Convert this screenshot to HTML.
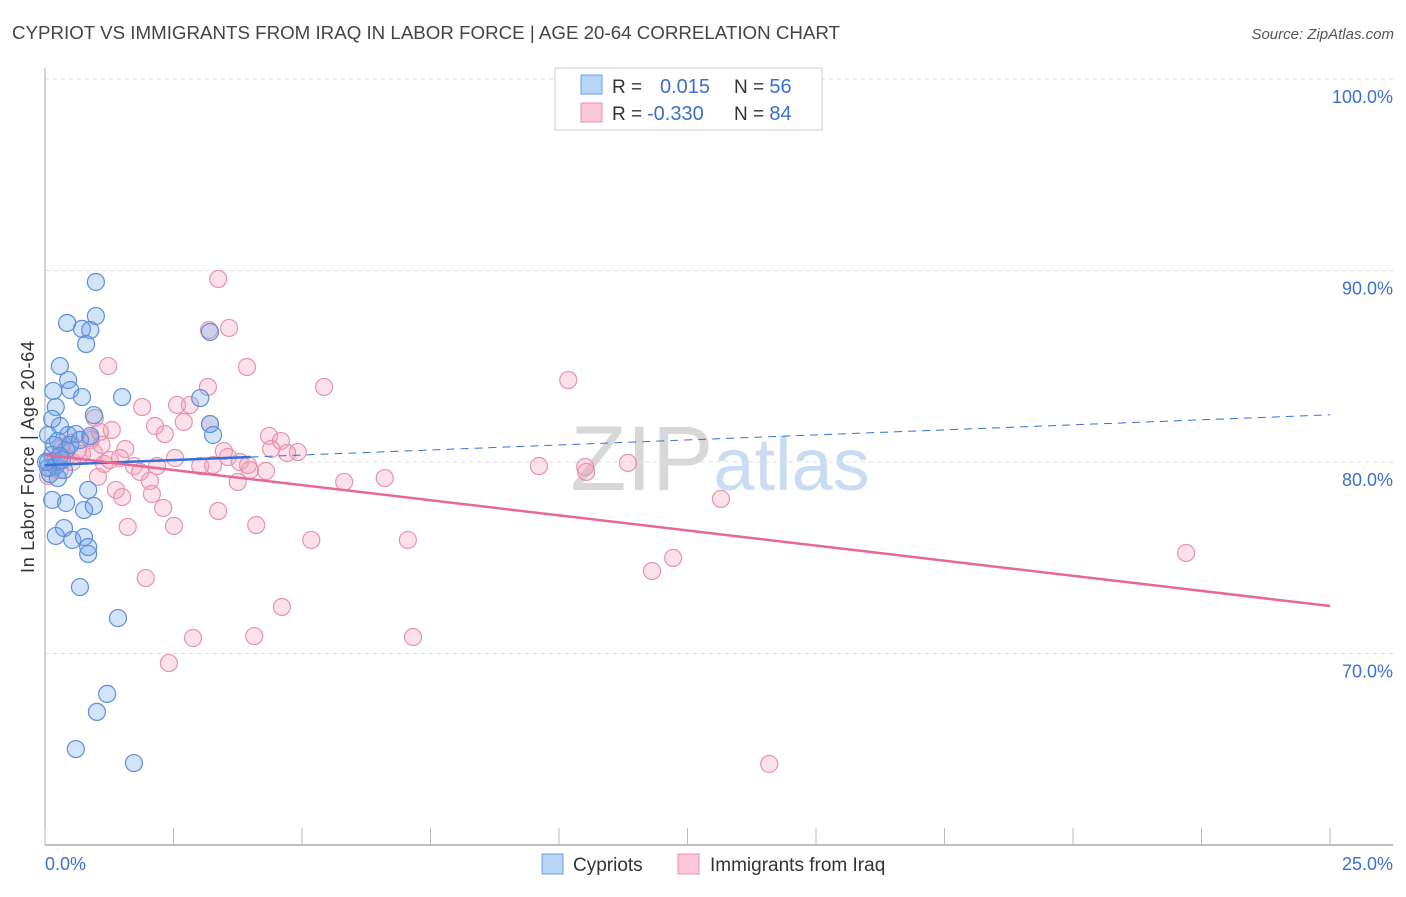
<!DOCTYPE html>
<html><head><meta charset="utf-8"><style>
body{margin:0;background:#fff;font-family:"Liberation Sans",sans-serif;}
svg text{font-family:"Liberation Sans",sans-serif;}
</style></head><body>
<svg id="chart" width="1406" height="892" xmlns="http://www.w3.org/2000/svg">
<text x="12" y="39" font-size="18" fill="#444" textLength="828" lengthAdjust="spacingAndGlyphs">CYPRIOT VS IMMIGRANTS FROM IRAQ IN LABOR FORCE | AGE 20-64 CORRELATION CHART</text>
<text x="1394" y="39" font-size="15" fill="#555" text-anchor="end" font-style="italic">Source: ZipAtlas.com</text>
<text x="720" y="490" font-size="92" fill="#ddd" text-anchor="middle" font-family="Liberation Serif"><tspan fill="#d8d8d8">ZIP</tspan><tspan fill="#c9dcf2" font-family="Liberation Sans" font-size="74">atlas</tspan></text>
<g id="grid"></g>
<g id="axes"></g>
<g id="pts"></g>
<g id="lines"></g>
<text x="34" y="457" font-size="18" fill="#333" text-anchor="middle" textLength="232" transform="rotate(-90 34 457)">In Labor Force | Age 20-64</text>
<g>
<rect x="555" y="68" width="267" height="62" fill="#fff" stroke="#ccc"/>
<rect x="581" y="75" width="21" height="19" fill="#b7d3f5" stroke="#6d9fe0"/>
<rect x="581" y="103" width="21" height="19" fill="#fac8d6" stroke="#e891aa"/>
<text x="612" y="93" font-size="19" fill="#333">R = <tspan x="660" fill="#3b6fd0" font-size="20">0.015</tspan><tspan x="734" fill="#333">N = </tspan><tspan fill="#3b6fd0" font-size="20">56</tspan></text>
<text x="612" y="120" font-size="19" fill="#333">R = <tspan x="647" fill="#3b6fd0" font-size="20">-0.330</tspan><tspan x="734" fill="#333">N = </tspan><tspan fill="#3b6fd0" font-size="20">84</tspan></text>
</g>
<g>
<rect x="542" y="854" width="21" height="20" fill="#b7d3f5" stroke="#6d9fe0"/>
<text x="573" y="871" font-size="19" fill="#333">Cypriots</text>
<rect x="678" y="854" width="21" height="20" fill="#fac8d6" stroke="#e891aa"/>
<text x="710" y="871" font-size="19" fill="#333">Immigrants from Iraq</text>
</g>
</svg>
<script>
const yTicks=[100,90,80,70];
const yTickLabels=["100.0%","90.0%","80.0%","70.0%"];
const xTicks=[0,2.5,5,7.5,10,12.5,15,17.5,20,22.5,25];
const xEndLabels=["0.0%","25.0%"];
const blueX=[0.99,0.43,0.99,0.72,0.88,0.80,3.21,0.29,0.45,0.49,0.72,0.16,1.50,0.21,3.02,0.95,0.14,3.21,3.27,0.29,0.45,0.60,0.06,0.25,0.41,0.14,0.06,0.21,0.37,0.10,0.84,0.14,0.41,0.76,0.95,0.37,0.21,0.53,0.76,0.84,0.84,0.68,1.42,1.21,1.01,0.60,1.73,0.06,0.33,0.18,0.49,0.68,0.25,0.02,0.88,0.29];
const blueY=[89.40,87.26,87.62,86.95,86.89,86.16,86.79,85.01,84.28,83.76,83.39,83.71,83.39,82.87,83.34,82.45,82.25,81.98,81.41,81.88,81.41,81.46,81.41,81.10,80.63,80.37,80.00,79.79,79.58,79.37,78.54,78.02,77.86,77.49,77.70,76.55,76.14,75.93,76.08,75.56,75.20,73.47,71.85,67.89,66.95,65.01,64.28,79.69,80.10,80.89,80.89,81.15,79.16,80.00,81.36,80.31];
const pinkX=[3.37,3.19,3.58,3.93,1.23,3.17,5.43,10.18,0.97,1.89,2.57,2.82,2.14,2.33,2.70,3.21,1.30,0.89,1.56,4.36,4.59,4.92,4.40,4.71,3.48,3.56,3.79,3.95,3.99,4.30,3.02,3.27,2.18,1.73,1.85,1.15,1.03,0.72,0.53,0.29,0.21,2.04,2.08,1.38,1.50,2.30,1.61,2.51,3.37,4.11,3.75,5.82,6.61,9.61,10.51,10.53,11.34,13.15,5.18,7.06,12.22,11.81,1.96,4.61,2.88,4.07,7.16,2.41,14.09,22.20,0.33,0.88,1.07,0.64,0.41,0.14,0.06,1.26,1.46,2.53,0.50,0.95,1.10,0.30];
const pinkY=[89.56,86.89,87.00,84.96,85.01,83.92,83.92,84.28,82.30,82.87,82.98,82.98,81.88,81.46,82.09,81.98,81.67,81.15,80.68,81.36,81.10,80.52,80.68,80.47,80.57,80.26,80.00,79.84,79.58,79.53,79.79,79.84,79.79,79.79,79.48,79.90,79.22,80.42,80.00,79.58,80.10,79.01,78.33,78.54,78.17,77.60,76.61,76.66,77.44,76.71,78.96,78.96,79.16,79.79,79.74,79.48,79.95,78.07,75.93,75.93,74.99,74.31,73.94,72.43,70.81,70.91,70.86,69.50,64.23,75.25,80.73,81.25,81.57,80.63,80.21,79.69,79.27,80.10,80.21,80.21,81.0,80.5,80.9,80.8];
const blueTrend=[79.84,0.105];   // intercept, slope
const pinkTrend=[80.37,-0.3156];
const X=v=>45+v*51.4;
const Y=v=>79+(100-v)*19.15;
const NS="http://www.w3.org/2000/svg";
function mk(tag,attrs,parent){const e=document.createElementNS(NS,tag);for(const k in attrs)e.setAttribute(k,attrs[k]);parent.appendChild(e);return e;}
const grid=document.getElementById('grid'),axes=document.getElementById('axes'),pts=document.getElementById('pts'),lines=document.getElementById('lines');
yTicks.forEach((t,i)=>{
 const l=mk('line',{x1:45,x2:1393,y1:Y(t),y2:Y(t),stroke:'#ddd','stroke-dasharray':'4,4'},grid);
 
 
 const tx=mk('text',{x:1393,y:Y(t)+24,'font-size':18,fill:'#3b6fd0','text-anchor':'end'},grid);
 tx.textContent=yTickLabels[i];
 
 
});
let a=mk('line',{x1:45,x2:45,y1:68,y2:845,stroke:'#aaa'},axes);


a=mk('line',{x1:45,x2:1393,y1:845,y2:845,stroke:'#aaa','stroke-width':1.5},axes);


xTicks.forEach(t=>{
 const l=mk('line',{x1:X(t),x2:X(t),y1:828,y2:845,stroke:'#bbb'},axes);
 
 
});
[[0,'start'],[25,'end']].forEach((p,i)=>{
 const tx=mk('text',{x:i?1393:45,y:870,'font-size':18,fill:'#3b6fd0','text-anchor':p[1]},axes);
 tx.textContent=xEndLabels[i];
 
 
});
function dots(xs,ys,fill,stroke,name){
 xs.forEach((x,i)=>{
  const c=mk('circle',{cx:X(x),cy:Y(ys[i]),r:8.5,fill:fill,stroke:stroke,'stroke-width':1.2},pts);
  
  
 });
}
dots(pinkX,pinkY,'rgba(243,160,185,0.3)','#e992ad','point-iraq');
dots(blueX,blueY,'rgba(110,165,235,0.3)','#5b8fdb','point-cypriots');
const bt=x=>blueTrend[0]+blueTrend[1]*x, pt=x=>pinkTrend[0]+pinkTrend[1]*x;
let l=mk('line',{x1:X(0),y1:Y(bt(0)),x2:X(4),y2:Y(bt(4)),stroke:'#3470d6','stroke-width':2.5},lines);


l=mk('line',{x1:X(4),y1:Y(bt(4)),x2:X(25),y2:Y(bt(25)),stroke:'#3470d6','stroke-width':1,'stroke-dasharray':'8,6'},lines);


l=mk('line',{x1:X(0),y1:Y(pt(0)),x2:X(25),y2:Y(pt(25)),stroke:'#e8679a','stroke-width':2.5},lines);


</script>
</body></html>
